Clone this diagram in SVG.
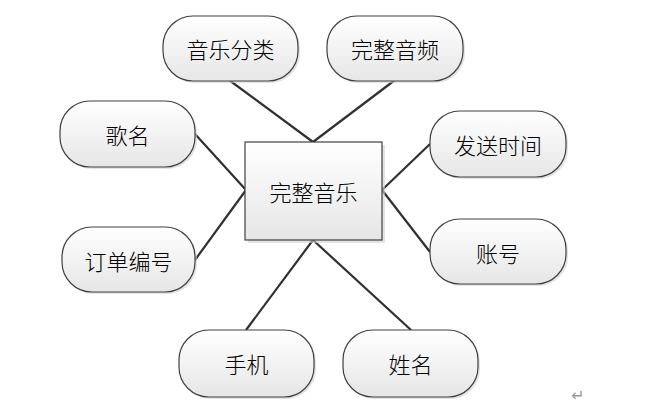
<svg xmlns="http://www.w3.org/2000/svg" width="659" height="413" viewBox="0 0 659 413">
<defs>
<linearGradient id="g" x1="0" y1="0" x2="0" y2="1">
<stop offset="0" stop-color="#ffffff"/>
<stop offset="1" stop-color="#e6e6e6"/>
</linearGradient>
<style>
.n{fill:url(#g);stroke:#404040;stroke-width:1.2}
.sh{fill:#d0d0d0;opacity:0.6}
.t{font-family:"Noto Sans CJK SC","Noto Sans",sans-serif;font-size:22px;fill:#000;text-anchor:middle;dominant-baseline:central;font-weight:300}
.c{stroke:#303030;stroke-width:2.2;fill:none}
</style>
</defs>
<rect width="659" height="413" fill="#fff"/>
<g id="connectors">
<line class="c" x1="229" y1="80" x2="313" y2="142"/>
<line class="c" x1="395" y1="80" x2="313" y2="142"/>
<line class="c" x1="195" y1="134" x2="246" y2="190"/>
<line class="c" x1="195" y1="260" x2="246" y2="190"/>
<line class="c" x1="430" y1="144" x2="382" y2="190"/>
<line class="c" x1="430" y1="252" x2="382" y2="190"/>
<line class="c" x1="246" y1="330" x2="313" y2="240"/>
<line class="c" x1="411" y1="330" x2="313" y2="240"/>
</g>
<g id="center">
<rect class="sh" x="248" y="145" width="137" height="98"/>
<rect class="n" x="245" y="142" width="137" height="98"/>
<text class="t" x="313.500" y="191">完整音乐</text>
</g>
<g id="n1">
<rect class="sh" x="165" y="18" width="135" height="65" rx="30"/>
<rect class="n" x="163" y="16" width="135" height="65" rx="30"/>
<text class="t" x="230.500" y="48">音乐分类</text>
</g>
<g id="n2">
<rect class="sh" x="329" y="18" width="136" height="65" rx="30"/>
<rect class="n" x="327" y="16" width="136" height="65" rx="30"/>
<text class="t" x="395" y="48">完整音频</text>
</g>
<g id="n3">
<rect class="sh" x="62" y="103" width="135" height="66" rx="30"/>
<rect class="n" x="60" y="101" width="135" height="66" rx="30"/>
<text class="t" x="127.500" y="134">歌名</text>
</g>
<g id="n4">
<rect class="sh" x="64" y="229" width="133" height="65" rx="30"/>
<rect class="n" x="62" y="227" width="133" height="65" rx="30"/>
<text class="t" x="128.500" y="260">订单编号</text>
</g>
<g id="n5">
<rect class="sh" x="432" y="113" width="136" height="66" rx="30"/>
<rect class="n" x="430" y="111" width="136" height="66" rx="30"/>
<text class="t" x="498" y="144">发送时间</text>
</g>
<g id="n6">
<rect class="sh" x="432" y="221" width="136" height="65" rx="30"/>
<rect class="n" x="430" y="219" width="136" height="65" rx="30"/>
<text class="t" x="498" y="252">账号</text>
</g>
<g id="n7">
<rect class="sh" x="181" y="332" width="135" height="67" rx="30"/>
<rect class="n" x="179" y="330" width="135" height="67" rx="30"/>
<text class="t" x="246.500" y="363">手机</text>
</g>
<g id="n8">
<rect class="sh" x="345" y="332" width="135" height="67" rx="30"/>
<rect class="n" x="343" y="330" width="135" height="67" rx="30"/>
<text class="t" x="410.500" y="363">姓名</text>
</g>
<text x="578" y="401" font-family="DejaVu Sans,sans-serif" font-size="16" fill="#999" text-anchor="middle">↵</text>
</svg>
